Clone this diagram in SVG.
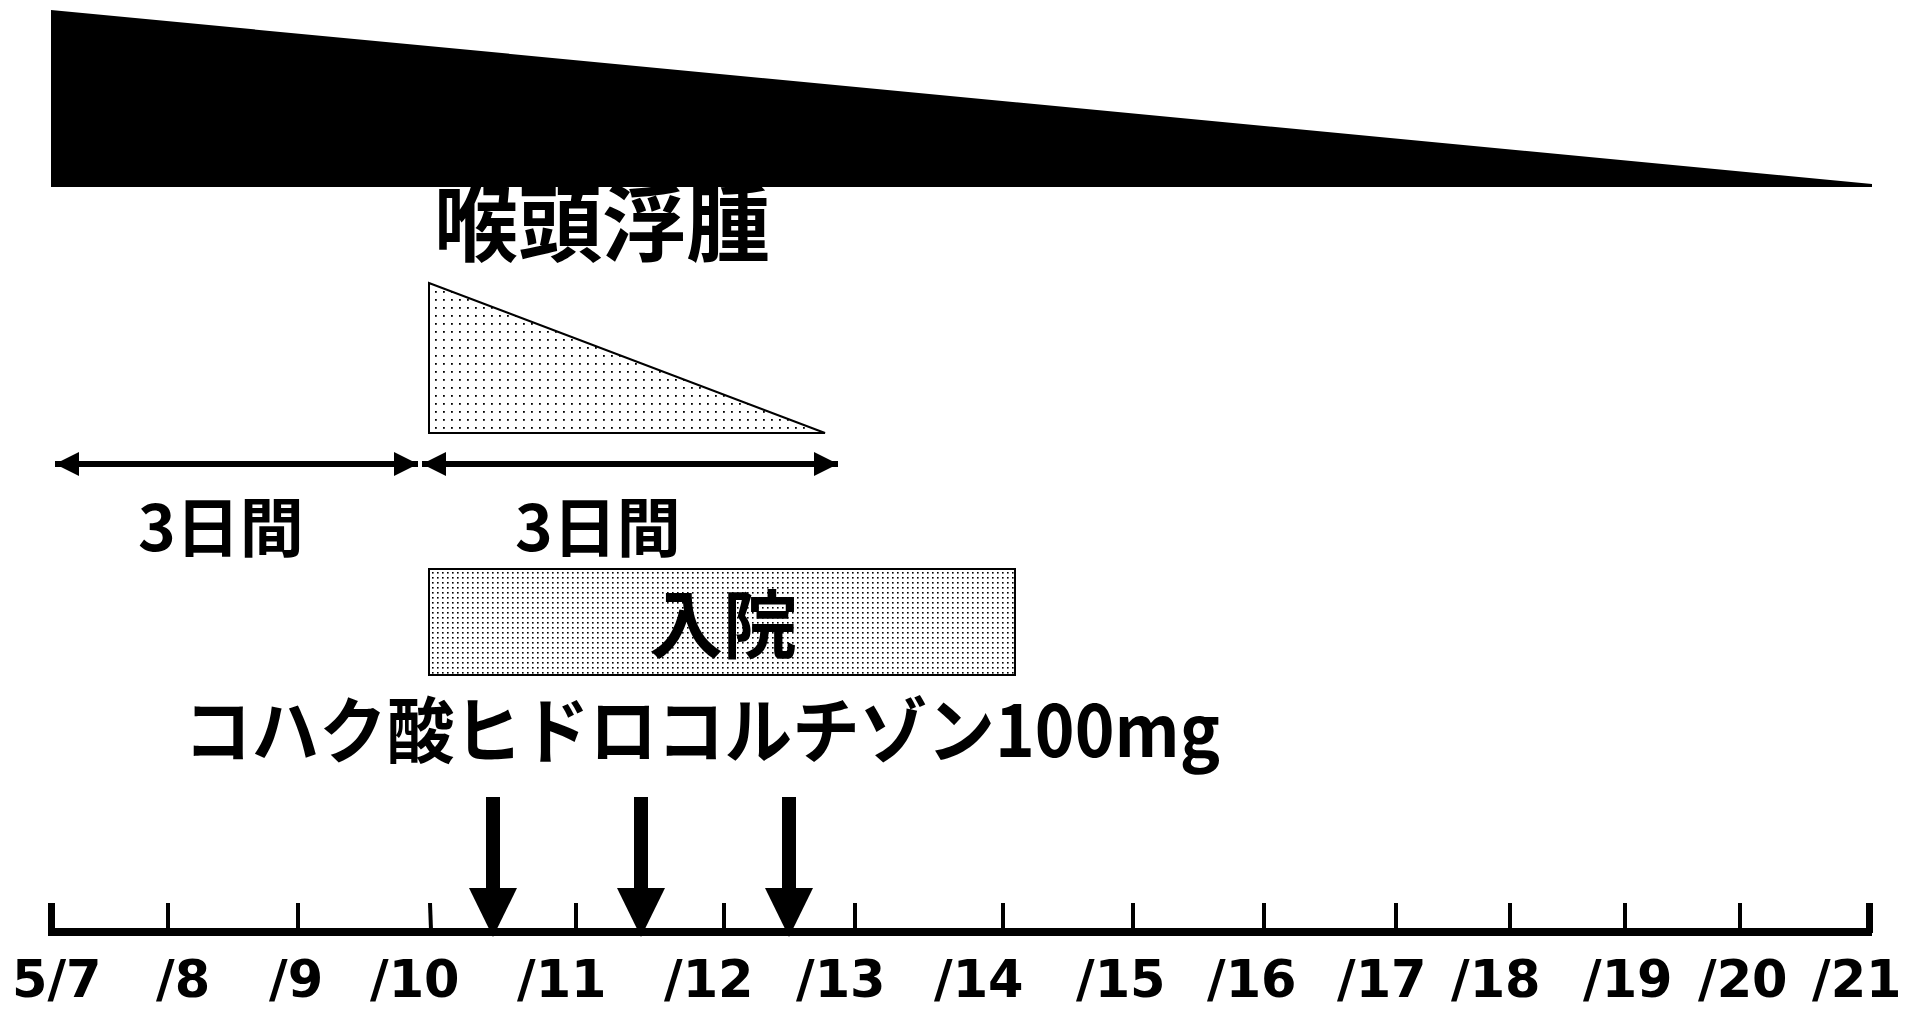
<svg xmlns="http://www.w3.org/2000/svg" width="1908" height="1009" viewBox="0 0 1908 1009">
<defs>
<style>
.jp{font-family:"Noto Sans CJK JP","Noto Sans CJK SC",sans-serif;font-weight:bold;fill:#000}
.dt{font-family:"DejaVu Sans",Verdana,sans-serif;font-weight:bold;fill:#000;font-size:51px}
.shaft{stroke:#000;stroke-width:6;fill:none}
.tick{stroke:#000;stroke-width:4}
</style>
<pattern id="dotsSparse" width="8" height="8" patternUnits="userSpaceOnUse">
<rect x="3" y="3" width="1.8" height="1.8" fill="#000"/>
</pattern>
<pattern id="dotsDense" width="5" height="5" patternUnits="userSpaceOnUse">
<rect x="2" y="2" width="1.6" height="1.6" fill="#000"/>
</pattern>
<marker id="ah" viewBox="0 0 10 10" refX="10" refY="5" markerWidth="4" markerHeight="4" orient="auto-start-reverse" markerUnits="strokeWidth">
<path d="M0,0 L10,5 L0,10 z" fill="#000"/>
</marker>
</defs>
<rect width="1908" height="1009" fill="#fff"/>

<g id="allergy-wedge">
<polygon points="51,10 51,187 1872,187 1872,184" fill="#000"/>
</g>

<g id="laryngeal-edema">
<text class="jp" x="434" y="255" font-size="84">喉頭浮腫</text>
<polygon points="429,283 429,433 825,433" fill="#fff" stroke="#000" stroke-width="2"/>
<polygon points="429,283 429,433 825,433" fill="url(#dotsSparse)"/>
</g>

<g id="period1">
<text class="jp" x="138" y="551" font-size="64">3日間</text>
</g>
<g id="period2">
<text class="jp" x="515" y="551" font-size="64">3日間</text>
</g>

<g id="admission">
<rect x="429" y="569" width="586" height="106" fill="#fff" stroke="#000" stroke-width="2"/>
<rect x="430" y="570" width="584" height="104" fill="url(#dotsDense)"/>
<text class="jp" x="723" y="652" font-size="74" text-anchor="middle">入院</text>
</g>

<g id="drug">
<text class="jp" x="184" y="757" font-size="72" textLength="1036" lengthAdjust="spacingAndGlyphs">コハク酸ヒドロコルチゾン100mg</text>
</g>

<g id="connectors">
<line class="shaft" x1="55" y1="464" x2="418" y2="464" marker-start="url(#ah)" marker-end="url(#ah)"/>
<line class="shaft" x1="422" y1="464" x2="838" y2="464" marker-start="url(#ah)" marker-end="url(#ah)"/>
<rect x="486" y="797" width="14" height="92" fill="#000"/>
<polygon points="469,888 517,888 493,937" fill="#000"/>
<rect x="634" y="797" width="14" height="92" fill="#000"/>
<polygon points="617,888 665,888 641,937" fill="#000"/>
<rect x="782" y="797" width="14" height="92" fill="#000"/>
<polygon points="765,888 813,888 789,937" fill="#000"/>
</g>

<g id="axis">
<rect x="49" y="928" width="1823" height="8" fill="#000"/>
<rect x="48" y="903" width="7" height="33" fill="#000"/>
<rect x="1866" y="903" width="7" height="30" fill="#000"/>
<line class="tick" x1="168" y1="903" x2="168" y2="930"/>
<line class="tick" x1="298" y1="903" x2="298" y2="930"/>
<line class="tick" x1="430" y1="903" x2="431" y2="930"/>
<line class="tick" x1="576" y1="903" x2="576" y2="930"/>
<line class="tick" x1="724" y1="903" x2="724" y2="930"/>
<line class="tick" x1="855" y1="903" x2="855" y2="930"/>
<line class="tick" x1="1003" y1="903" x2="1003" y2="930"/>
<line class="tick" x1="1133" y1="903" x2="1133" y2="930"/>
<line class="tick" x1="1264" y1="903" x2="1264" y2="930"/>
<line class="tick" x1="1396" y1="903" x2="1396" y2="930"/>
<line class="tick" x1="1510" y1="903" x2="1510" y2="930"/>
<line class="tick" x1="1625" y1="903" x2="1625" y2="930"/>
<line class="tick" x1="1740" y1="903" x2="1740" y2="930"/>
<text class="dt" x="12" y="997">5/7</text>
<text class="dt" x="156" y="997">/8</text>
<text class="dt" x="269" y="997">/9</text>
<text class="dt" x="370" y="997">/10</text>
<text class="dt" x="517" y="997">/11</text>
<text class="dt" x="664" y="997">/12</text>
<text class="dt" x="796" y="997">/13</text>
<text class="dt" x="934" y="997">/14</text>
<text class="dt" x="1076" y="997">/15</text>
<text class="dt" x="1207" y="997">/16</text>
<text class="dt" x="1337" y="997">/17</text>
<text class="dt" x="1451" y="997">/18</text>
<text class="dt" x="1583" y="997">/19</text>
<text class="dt" x="1698" y="997">/20</text>
<text class="dt" x="1812" y="997">/21</text>
</g>
</svg>
